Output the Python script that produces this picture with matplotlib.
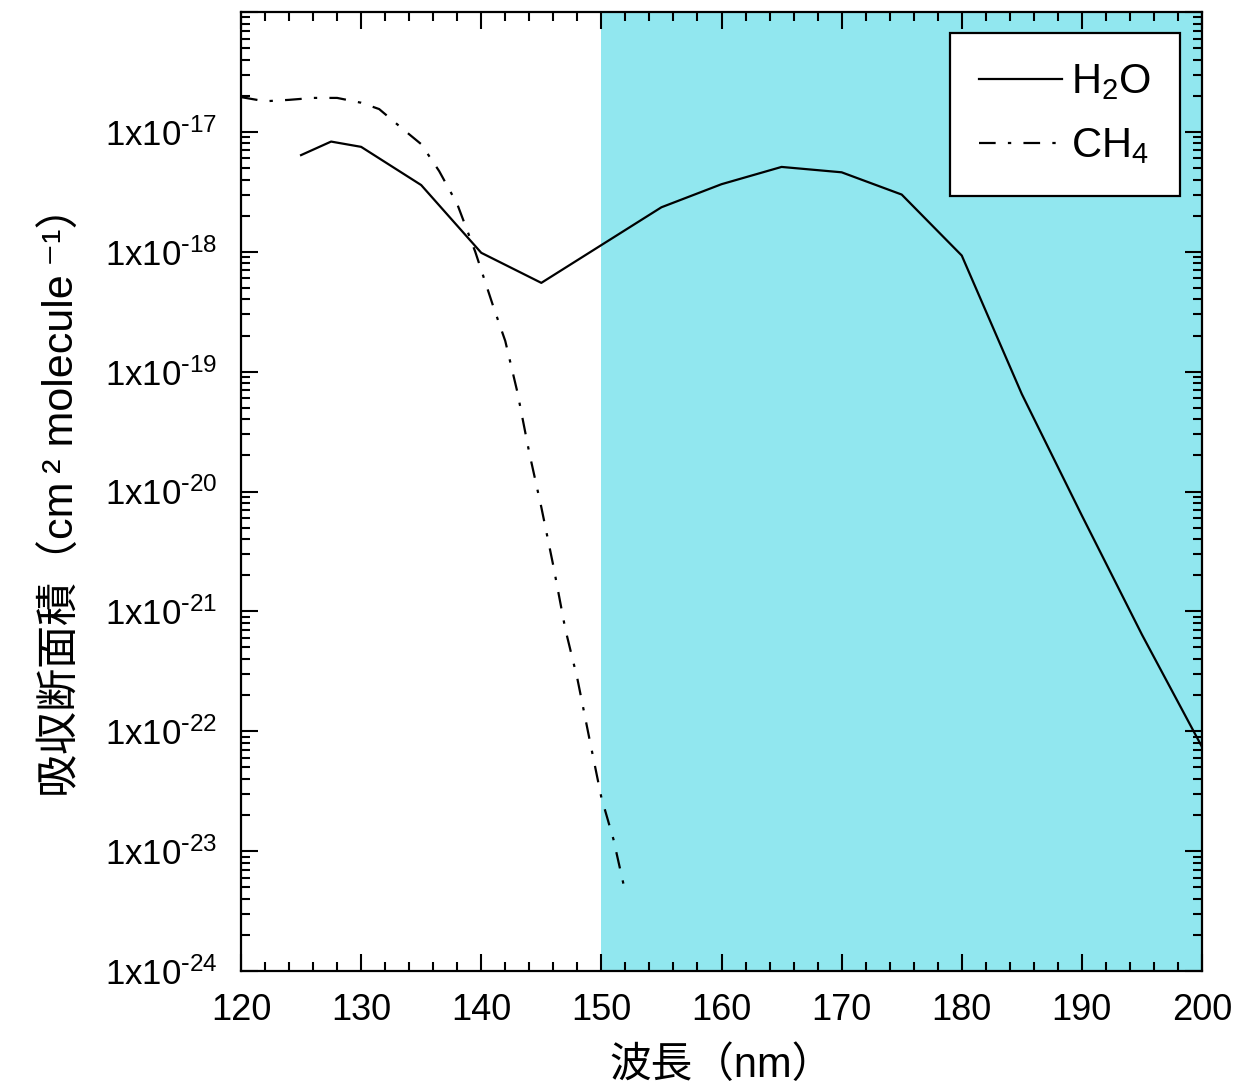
import matplotlib
matplotlib.use("Agg")
import matplotlib.pyplot as plt
from matplotlib.ticker import FixedLocator, FixedFormatter, LogLocator, MultipleLocator, NullFormatter

plt.rcParams['font.family'] = ['Liberation Sans', 'DejaVu Sans']
plt.rcParams['mathtext.default'] = 'regular'

# ---- data ----
h2o_wl = [125, 127.5, 130, 135, 140, 145, 155, 160, 165, 170, 175, 180, 185, 190, 195, 200]
h2o_xs = [6.4e-18, 8.3e-18, 7.5e-18, 3.6e-18, 9.8e-19, 5.5e-19, 2.35e-18, 3.66e-18,
          5.1e-18, 4.6e-18, 3.0e-18, 9.3e-19, 6.5e-20, 6.3e-21, 6.4e-22, 7.4e-23]

ch4_wl = [120, 122, 124, 126, 128, 130, 131.5, 133.5, 135, 136.5, 138, 139.5,
          141, 142, 143, 144, 145, 146, 147, 148, 149, 150, 151, 152]
ch4_xs = [1.95e-17, 1.8e-17, 1.85e-17, 1.92e-17, 1.92e-17, 1.75e-17, 1.55e-17, 1.05e-17,
          7.9e-18, 4.7e-18, 2.5e-18, 1.0e-18, 3.5e-19, 1.8e-19, 6.8e-20, 2.1e-20,
          7.4e-21, 2.4e-21, 7.1e-22, 2.75e-22, 8.7e-23, 2.8e-23, 1.26e-23, 4.5e-24]

x_ticks = [120, 130, 140, 150, 160, 170, 180, 190, 200]
y_exps = [-24, -23, -22, -21, -20, -19, -18, -17, -16]
y_labels = ['1x10$^{\\text{-}%d}$' % (-e) for e in y_exps[:-1]] + ['']
shade_range = (150, 200)

fig = plt.figure(figsize=(12.36, 10.92), dpi=100)
ax = fig.add_axes([241/1236, 1 - 971/1092, (1202-241)/1236, (971-12)/1092])

ax.axvspan(shade_range[0], shade_range[1], color='#91E7EF', lw=0, zorder=0)

ax.plot(h2o_wl, h2o_xs, color='black', lw=1.6, label='H$_2$O', zorder=3)
ax.plot(ch4_wl, ch4_xs, color='black', lw=1.6, dashes=(7.5, 5.5, 1.5, 5.5), label='CH$_4$', zorder=3)

ax.set_yscale('log')
ax.set_xlim(120, 200)
ax.set_ylim(1e-24, 1e-16)

ax.xaxis.set_major_locator(FixedLocator(x_ticks))
ax.xaxis.set_minor_locator(MultipleLocator(2))
ax.yaxis.set_major_locator(FixedLocator([10.0**e for e in y_exps]))
ax.yaxis.set_major_formatter(FixedFormatter(y_labels))
ax.yaxis.set_minor_locator(LogLocator(base=10, subs=range(2, 10), numticks=20))
ax.yaxis.set_minor_formatter(NullFormatter())

ax.tick_params(which='both', direction='in', top=True, right=True, width=1.5, colors='black')
ax.tick_params(which='major', length=12)
ax.tick_params(which='minor', length=6.5)
ax.tick_params(axis='x', which='major', labelsize=26, pad=16)
ax.tick_params(axis='y', which='major', labelsize=25, pad=17)
for s in ax.spines.values():
    s.set_linewidth(1.6)

lbl_fam = ['Liberation Sans', 'Noto Sans CJK JP', 'DejaVu Sans']
ax.set_xlabel('波長（nm）', fontsize=30, family=lbl_fam, labelpad=13)
ax.set_ylabel('吸収断面積（cm\u2009² molecule\u2009⁻¹）', fontsize=31, family=lbl_fam, labelpad=16)

leg = ax.legend(loc='upper right', bbox_to_anchor=(0.977, 0.978), borderaxespad=0,
                fontsize=30, frameon=True, fancybox=False, edgecolor='black',
                handlelength=2.0, handletextpad=0.2, labelspacing=0.58, borderpad=0.7)
leg.get_frame().set_linewidth(1.6)
leg.get_frame().set_alpha(1)

fig.savefig('out.png', dpi=100)
